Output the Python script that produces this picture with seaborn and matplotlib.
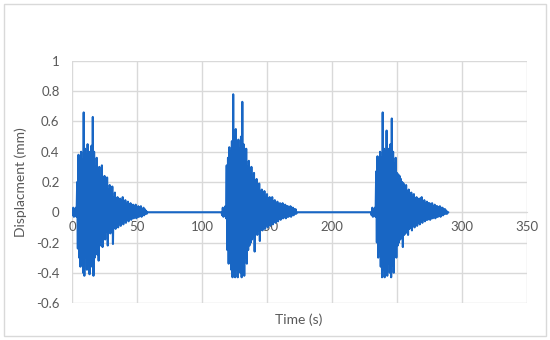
import numpy as np
import pandas as pd
import matplotlib
import matplotlib.pyplot as plt
import seaborn as sns
from matplotlib.patches import Rectangle

matplotlib.use('Agg')

# start time of each shaking record (s)
burst_starts = [0, 115, 230]

# upper peaks, one per second from the start of each burst (mm)
burst1_up = [0.0, 0.03, 0.02, 0.03, 0.20, 0.38, 0.25, 0.40, 0.35, 0.66, 0.42, 0.38, 0.45, 0.40, 0.36, 0.44, 0.63,
             0.40, 0.30, 0.36, 0.25, 0.30, 0.22, 0.31, 0.20, 0.24, 0.18, 0.23, 0.15, 0.18, 0.14, 0.17, 0.10, 0.13,
             0.09, 0.10, 0.07, 0.09, 0.08, 0.10, 0.06, 0.08, 0.05, 0.07, 0.05, 0.06, 0.04, 0.05, 0.04, 0.05, 0.03,
             0.04, 0.03, 0.04, 0.02, 0.03, 0.02, 0.01, 0.0]
burst2_up = [0.0, 0.03, 0.02, 0.04, 0.31, 0.36, 0.43, 0.40, 0.47, 0.78, 0.50, 0.55, 0.45, 0.48, 0.42, 0.50, 0.73,
             0.45, 0.39, 0.42, 0.30, 0.34, 0.28, 0.30, 0.22, 0.26, 0.20, 0.22, 0.16, 0.19, 0.14, 0.15, 0.12, 0.14,
             0.10, 0.12, 0.09, 0.10, 0.08, 0.10, 0.07, 0.08, 0.06, 0.07, 0.05, 0.06, 0.05, 0.06, 0.04, 0.05, 0.04,
             0.04, 0.03, 0.04, 0.03, 0.03, 0.02, 0.02, 0.0]
burst3_up = [0.0, 0.03, 0.02, 0.03, 0.27, 0.37, 0.30, 0.40, 0.36, 0.66, 0.42, 0.40, 0.54, 0.42, 0.38, 0.45, 0.62,
             0.40, 0.32, 0.36, 0.26, 0.25, 0.24, 0.22, 0.20, 0.19, 0.17, 0.18, 0.14, 0.15, 0.12, 0.13, 0.10, 0.12,
             0.09, 0.10, 0.08, 0.09, 0.09, 0.10, 0.07, 0.08, 0.06, 0.07, 0.06, 0.06, 0.05, 0.06, 0.04, 0.05, 0.04,
             0.04, 0.03, 0.04, 0.03, 0.03, 0.02, 0.02, 0.01, 0.0]

# lower peaks, half a second after each upper peak (mm)
burst1_low = [-0.02, -0.03, -0.02, -0.03, -0.24, -0.30, -0.36, -0.28, -0.40, -0.42, -0.30, -0.38, -0.34, -0.41,
              -0.30, -0.36, -0.42, -0.30, -0.25, -0.28, -0.32, -0.22, -0.20, -0.23, -0.15, -0.18, -0.13, -0.22,
              -0.12, -0.14, -0.10, -0.21, -0.09, -0.11, -0.08, -0.10, -0.07, -0.09, -0.06, -0.08, -0.05, -0.07,
              -0.05, -0.06, -0.04, -0.05, -0.04, -0.04, -0.03, -0.04, -0.03, -0.03, -0.02, -0.03, -0.02, -0.02,
              -0.01, -0.01, 0.0]
burst2_low = [-0.02, -0.03, -0.02, -0.04, -0.25, -0.34, -0.30, -0.38, -0.43, -0.36, -0.43, -0.38, -0.43, -0.35,
              -0.40, -0.43, -0.36, -0.42, -0.30, -0.34, -0.25, -0.22, -0.20, -0.18, -0.16, -0.26, -0.14, -0.15,
              -0.12, -0.19, -0.11, -0.12, -0.10, -0.11, -0.08, -0.10, -0.07, -0.09, -0.06, -0.08, -0.05, -0.07,
              -0.05, -0.06, -0.04, -0.05, -0.04, -0.04, -0.03, -0.04, -0.03, -0.03, -0.02, -0.03, -0.02, -0.02,
              -0.01, -0.01, 0.0]
burst3_low = [-0.02, -0.03, -0.02, -0.03, -0.20, -0.30, -0.26, -0.36, -0.43, -0.38, -0.43, -0.36, -0.42, -0.34,
              -0.40, -0.43, -0.35, -0.40, -0.28, -0.30, -0.22, -0.20, -0.18, -0.17, -0.23, -0.15, -0.14, -0.13,
              -0.15, -0.11, -0.10, -0.12, -0.09, -0.10, -0.08, -0.09, -0.07, -0.08, -0.06, -0.07, -0.05, -0.06,
              -0.05, -0.05, -0.04, -0.05, -0.04, -0.04, -0.03, -0.04, -0.03, -0.03, -0.02, -0.03, -0.02, -0.02,
              -0.01, -0.01, -0.01, 0.0]

x_ticks = [0, 50, 100, 150, 200, 250, 300, 350]
y_ticks = [-0.6, -0.4, -0.2, 0, 0.2, 0.4, 0.6, 0.8, 1]

# build one time series
parts = []
for start, up, low in zip(burst_starts, [burst1_up, burst2_up, burst3_up], [burst1_low, burst2_low, burst3_low]):
    parts.append(pd.DataFrame({'time': start + np.arange(len(up)), 'disp': up}))
    parts.append(pd.DataFrame({'time': start + np.arange(len(low)) + 0.5, 'disp': low}))
df = pd.concat(parts).sort_values('time').reset_index(drop=True)

sns.set_style('white')
plt.rcParams['font.family'] = ['Lato', 'DejaVu Sans']

fig = plt.figure(figsize=(5.5, 3.4), dpi=100)
ax = fig.add_axes([72 / 550, 1 - 303 / 340, 455 / 550, 242 / 340])

sns.lineplot(data=df, x='time', y='disp', sort=False, estimator=None, color='#1866C4', linewidth=1.5, ax=ax)

ax.set_xlim(0, 350)
ax.set_ylim(-0.6, 1)
ax.set_xticks(x_ticks)
ax.set_yticks(y_ticks)
ax.set_xticklabels([str(v) for v in x_ticks])
ax.set_yticklabels(['-0.6', '-0.4', '-0.2', '0', '0.2', '0.4', '0.6', '0.8', '1'])
ax.grid(True, color='#D9D9D9', linewidth=1)
ax.set_axisbelow(True)
for s in ['top', 'right', 'left']:
    ax.spines[s].set_visible(False)
ax.spines['bottom'].set_position(('data', 0))
ax.spines['bottom'].set_color('#D9D9D9')
ax.spines['bottom'].set_zorder(0)
ax.tick_params(axis='both', length=0, labelsize=9.5, labelcolor='#595959')
ax.tick_params(axis='x', pad=6)
ax.tick_params(axis='y', pad=9)

ax.set_xlabel('')
ax.set_ylabel('')
fig.text(299 / 550, 1 - 320 / 340, 'Time (s)', ha='center', va='center', fontsize=10, color='#595959')
fig.text(21 / 550, 1 - 182 / 340, 'Displacment (mm)', ha='center', va='center', rotation=90,
         fontsize=10, color='#595959')

# chart border
fig.patches.append(Rectangle((4 / 550, 4 / 340), 542 / 550, 332 / 340, transform=fig.transFigure,
                             fill=False, edgecolor='#D9D9D9', linewidth=1))

plt.savefig('out.png', dpi=100)
plt.close()
